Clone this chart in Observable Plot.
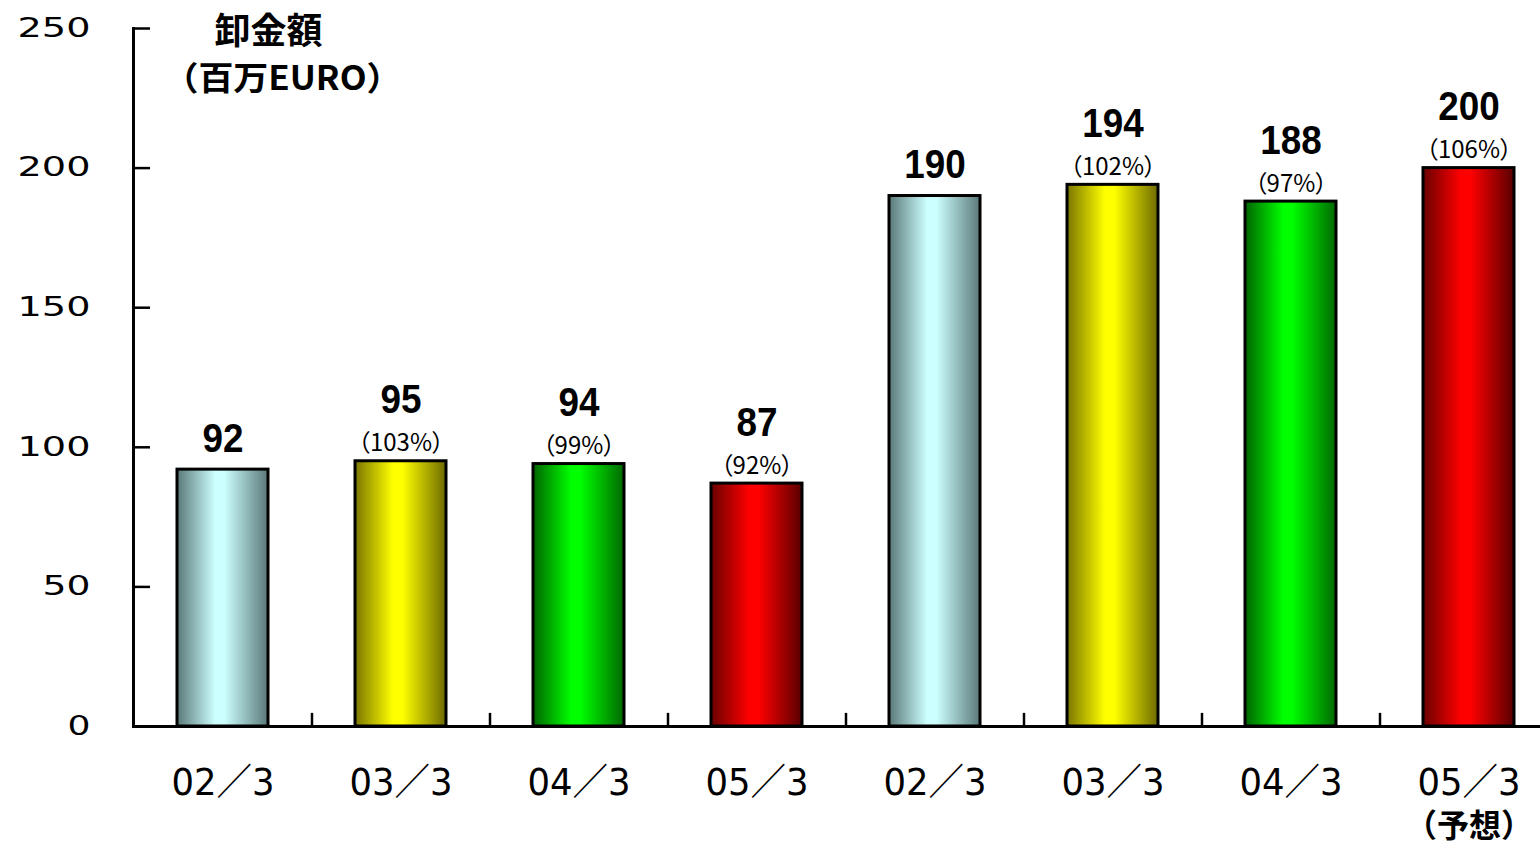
<!DOCTYPE html>
<html>
<head>
<meta charset="utf-8">
<script src="https://cdn.jsdelivr.net/npm/d3@7"></script>
<script src="https://cdn.jsdelivr.net/npm/@observablehq/plot@0.6"></script>
<style>
  html, body { margin: 0; padding: 0; background: #fff; }
  #chart svg { display: block; }
  g[font-size="24"] text { font-feature-settings: "palt"; }
</style>
</head>
<body>
<div id="chart"></div>
<script>
// Wholesale amount (million EURO), two blocks of four fiscal periods
const periods = ["02／3", "03／3", "04／3", "05／3", "02／3", "03／3", "04／3", "05／3"];
const periodNotes = ["", "", "", "", "", "", "", "（予想）"];
const blocks = [1, 1, 1, 1, 2, 2, 2, 2];
const values = [92, 95, 94, 87, 190, 194, 188, 200];
const ratios = [null, 103, 99, 92, null, 102, 97, 106];
const yTicks = [0, 50, 100, 150, 200, 250];
const titleLines = ["卸金額", "（百万EURO）"];

// cylinder-like horizontal shading per period: [edge-left, highlight, edge-right]
const shades = {
  "02／3": ["#5a7878", "#ccffff", "#5a7878"],
  "03／3": ["#7a7600", "#ffff00", "#6e6a00"],
  "04／3": ["#006400", "#00ff00", "#006800"],
  "05／3": ["#6a0000", "#ff0000", "#580000"]
};
const gradId = p => "shade" + periods.indexOf(p);

const rows = periods.map((p, i) => ({
  key: `${blocks[i]}-${p}`,
  period: p,
  note: periodNotes[i],
  value: values[i],
  ratio: ratios[i],
  grad: gradId(p)
}));

const W = 1540, H = 847;
const plotLeft = 133, plotBottom = 726, plotTop = 28;
const xRange = [plotLeft, 1557];
const step = (xRange[1] - xRange[0]) / rows.length;

// font sizes (also used to find the text groups afterwards)
const fs = { tick: 26, period: 37, note: 32, value: 41, ratio: 24, title: 36, unit: 33 };
const valueFont = "'Liberation Sans', Arial, sans-serif";

const chart = Plot.plot({
  width: W,
  height: H,
  marginLeft: plotLeft,
  marginRight: 0,
  marginTop: plotTop,
  marginBottom: H - plotBottom,
  style: { background: "white", color: "black", overflow: "visible" },
  x: { domain: rows.map(d => d.key), range: xRange, paddingInner: 0.49, paddingOuter: 0.245, axis: null },
  y: { domain: [0, 250], axis: null },
  color: { type: "identity" },
  marks: [
    Plot.barY(rows, { x: "key", y: "value", fill: d => `url(#${d.grad})`, stroke: "black", strokeWidth: 3 }),
    // axes lines
    Plot.frame({ anchor: "left", strokeWidth: 3 }),
    Plot.frame({ anchor: "bottom", strokeWidth: 3 }),
    // y ticks pointing inward
    Plot.axisY(yTicks, { tickSize: 17, dx: 17, fill: "none", strokeWidth: 2.5, label: null }),
    Plot.axisY(yTicks, {
      tickSize: 0, tickPadding: 43, label: null,
      fontSize: fs.tick, fontFamily: "'DejaVu Sans', sans-serif"
    }),
    // x ticks between categories
    Plot.ruleX(rows.slice(1), { x: "key", y1: 0, y2: 4.7, dx: -step / 2, strokeWidth: 2.5 }),
    // category labels
    Plot.text(rows, {
      x: "key", frameAnchor: "bottom", text: "period", lineAnchor: "top", dy: 42,
      fontSize: fs.period, fontFamily: "'DejaVu Sans', 'Noto Sans CJK JP', sans-serif"
    }),
    Plot.text(rows.filter(d => d.note), {
      x: "key", frameAnchor: "bottom", text: "note", lineAnchor: "top", dy: 88,
      fontSize: fs.note, fontWeight: 700, fontFamily: "'Noto Sans CJK JP', sans-serif"
    }),
    // value labels
    Plot.text(rows.filter(d => d.ratio == null), {
      x: "key", y: "value", text: d => String(d.value), lineAnchor: "bottom", dy: -18,
      fontSize: fs.value, fontWeight: 700, fontFamily: valueFont
    }),
    Plot.text(rows.filter(d => d.ratio != null), {
      x: "key", y: "value", text: d => String(d.value), lineAnchor: "bottom", dy: -48,
      fontSize: fs.value, fontWeight: 700, fontFamily: valueFont
    }),
    Plot.text(rows.filter(d => d.ratio != null), {
      x: "key", y: "value", text: d => `（${d.ratio}%）`, lineAnchor: "bottom", dy: -10,
      fontSize: fs.ratio, fontFamily: "'Noto Sans CJK JP', sans-serif"
    }),
    // title
    Plot.text([titleLines[0]], {
      text: d => d, frameAnchor: "top-left", dx: 135, dy: 4, textAnchor: "middle", lineAnchor: "middle",
      fontSize: fs.title, fontWeight: 700, fontFamily: "'Noto Sans CJK JP', sans-serif"
    }),
    Plot.text([titleLines[1]], {
      text: d => d, frameAnchor: "top-left", dx: 149, dy: 51, textAnchor: "middle", lineAnchor: "middle",
      fontSize: fs.unit, fontWeight: 700, fontFamily: "'Noto Sans CJK JP', sans-serif"
    })
  ]
});

// gradient definitions used by the bars
const svg = d3.select(chart);
const defs = svg.insert("defs", ":first-child");
periods.forEach(p => {
  const id = gradId(p);
  if (!defs.select("#" + id).empty()) return;
  const [a, b, c] = shades[p];
  const g = defs.append("linearGradient").attr("id", id).attr("x1", 0).attr("x2", 1).attr("y1", 0).attr("y2", 0);
  [[0, a], [0.42, b], [0.52, b], [1, c]].forEach(([o, col]) =>
    g.append("stop").attr("offset", o).attr("stop-color", col));
});

// stretch / condense text runs to their drawn widths
const fit = (sel, len) => svg.selectAll(sel).each(function () {
  d3.select(this).attr("textLength", len(this.textContent)).attr("lengthAdjust", "spacingAndGlyphs");
});
fit('g[aria-label="y-axis tick label"] text', s => s.length * 25 - 2);
fit(`g[font-size="${fs.period}"] text`, () => 103);
fit(`g[font-size="${fs.value}"] text`, s => s.length * 20.5);
fit(`g[font-size="${fs.unit}"] text`, () => 238);

document.getElementById("chart").appendChild(chart);
</script>
</body>
</html>
